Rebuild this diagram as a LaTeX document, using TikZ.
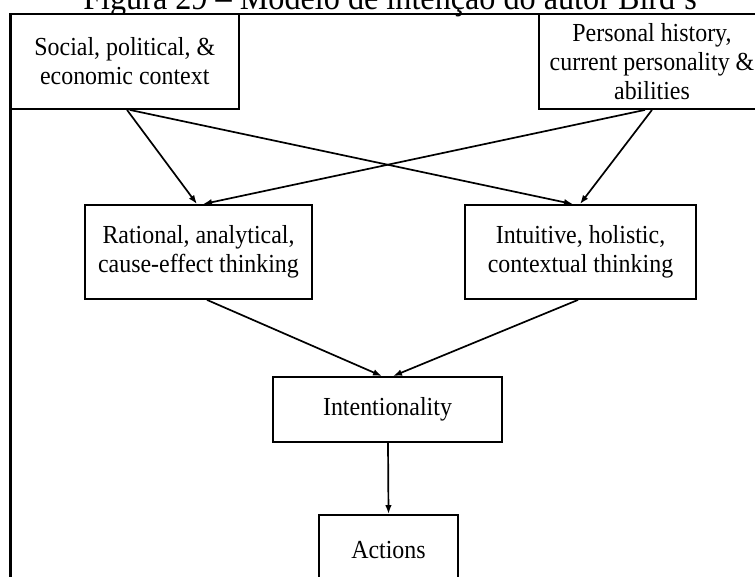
\documentclass[tikz,border=0pt]{standalone}
\usepackage{fontspec}
\setmainfont{Liberation Serif}[FakeStretch=0.92]
\usetikzlibrary{arrows.meta}

\begin{document}
\begin{tikzpicture}[x=1pt, y=-1pt,
  box/.style={draw=black, line width=1.8pt, fill=white, align=center,
    inner sep=0pt, font=\fontsize{26}{29}\selectfont},
  link/.style={line width=1.7pt, -{Latex[length=9pt,width=6.5pt]}},
  frame/.style={line width=2.3pt}]
  % page area
  \fill[white] (0,0) rectangle (755,576);
  \clip (0,0) rectangle (755,576);

  % caption (partly cut off at the top)
  \node[anchor=base, inner sep=0pt, font=\fontsize{35}{40}\selectfont] (title) at (390,9)
    {Figura 29 – Modelo de intenção do autor Bird's};

  % outer frame
  \draw[frame] (10.5,600) -- (10.5,14) -- (780,14);

  % boxes
  \node[box, minimum width=228.5pt, minimum height=95pt] (ctx) at (124.75,61.5)
    {Social, political, \&\\economic context};
  \node[box, minimum width=226pt, minimum height=95pt] (pers) at (652,61.5)
    {Personal history,\\current personality \&\\abilities};
  \node[box, minimum width=227pt, minimum height=94pt] (rat) at (198.5,252)
    {Rational, analytical,\\cause-effect thinking};
  \node[box, minimum width=231pt, minimum height=94pt] (intu) at (580.5,252)
    {Intuitive, holistic,\\contextual thinking};
  \node[box, minimum width=229pt, minimum height=65pt] (intent) at (387.5,409.5)
    {Intentionality};
  \node[box, minimum width=139pt, minimum height=70pt] (act) at (388.5,550)
    {Actions};

  % frame edges shared with the top boxes
  \draw[frame] (10.5,109) -- (10.5,14) -- (239,14);
  \draw[frame] (539,14) -- (780,14);

  % connectors
  \draw[link] ([xshift=2.25pt]ctx.south) -- ([xshift=-1.5pt]rat.north);
  \draw[link] ([xshift=5pt]ctx.south) -- ([xshift=-7.5pt]intu.north);
  \draw[link] (pers.south) -- ([xshift=-0.5pt]intu.north);
  \draw[link] ([xshift=-7pt]pers.south) -- ([xshift=4.5pt]rat.north);
  \draw[link] ([xshift=8.5pt]rat.south) -- ([xshift=-5.5pt]intent.north);
  \draw[link] ([xshift=-2.5pt]intu.south) -- ([xshift=5.5pt]intent.north);
  \draw[link] ([xshift=0.5pt]intent.south) -- (act.north);
\end{tikzpicture}
\end{document}
